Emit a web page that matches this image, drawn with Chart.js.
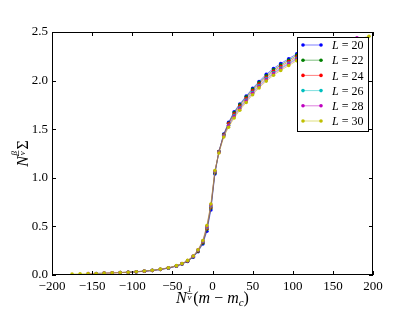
<!DOCTYPE html>
<html>
<head>
<meta charset="utf-8">
<script src="https://cdn.jsdelivr.net/npm/chart.js@4.4.0/dist/chart.umd.min.js"></script>
<style>
  html, body { margin: 0; padding: 0; background: #fff; }
  #wrap { width: 415px; height: 312px; }
</style>
</head>
<body>
<div id="wrap"><canvas id="c" width="415" height="312"></canvas></div>
<script>
// tick values
const xTicks = [-200, -150, -100, -50, 0, 50, 100, 150, 200];
const yTicks = [0, 0.5, 1, 1.5, 2, 2.5];

// series labels and colours (matplotlib classic b g r c m y)
const sizes = [20, 22, 24, 26, 28, 30];
const colors = ["#0000ff", "#008000", "#ff0000", "#00bfbf", "#bf00bf", "#bfbf00"];

const xL20 = [-105,-95,-85,-75,-65,-55,-45,-38,-31,-24,-18,-12,-7,-2,3,8,14,20,27,34,42,50,58,67,76,85,95,105,117];
const yL20 = [0.027,0.032,0.038,0.046,0.056,0.070,0.090,0.112,0.140,0.183,0.24,0.32,0.45,0.67,1.04,1.27,1.45,1.57,1.68,1.76,1.84,1.92,1.99,2.065,2.125,2.175,2.225,2.275,2.315];

const xL22 = [-115,-105,-95,-85,-75,-65,-55,-45,-38,-31,-24,-18,-12,-7,-2,3,8,14,20,27,34,42,50,58,67,76,85,95,105,117,130];
const yL22 = [0.025,0.028,0.033,0.039,0.047,0.057,0.071,0.092,0.114,0.143,0.187,0.245,0.33,0.47,0.69,1.05,1.27,1.445,1.56,1.67,1.75,1.83,1.91,1.98,2.05,2.11,2.16,2.21,2.26,2.30,2.34];

const xL24 = [-135,-125,-115,-105,-95,-85,-75,-65,-55,-45,-38,-31,-24,-18,-12,-7,-2,3,8,14,20,27,34,42,50,58,67,76,85,95,105,117,130,145];
const yL24 = [0.019,0.022,0.025,0.028,0.033,0.039,0.047,0.058,0.072,0.093,0.115,0.145,0.19,0.25,0.34,0.48,0.70,1.06,1.27,1.44,1.555,1.655,1.735,1.815,1.895,1.965,2.035,2.095,2.145,2.195,2.245,2.285,2.325,2.37];

const xL26 = [-145,-135,-125,-115,-105,-95,-85,-75,-65,-55,-45,-38,-31,-24,-18,-12,-7,-2,3,8,14,20,27,34,42,50,58,67,76,85,95,105,117,130,145,162];
const yL26 = [0.016,0.019,0.022,0.025,0.029,0.034,0.040,0.048,0.059,0.073,0.094,0.116,0.147,0.192,0.255,0.345,0.49,0.71,1.065,1.265,1.435,1.54,1.64,1.72,1.80,1.88,1.95,2.02,2.08,2.13,2.18,2.23,2.27,2.31,2.36,2.41];

const xL28 = [-155,-145,-135,-125,-115,-105,-95,-85,-75,-65,-55,-45,-38,-31,-24,-18,-12,-7,-2,3,8,14,20,27,34,42,50,58,67,76,85,95,105,117,130,145,162,180];
const yL28 = [0.014,0.016,0.019,0.022,0.025,0.029,0.034,0.040,0.048,0.059,0.074,0.095,0.117,0.148,0.194,0.258,0.35,0.50,0.72,1.07,1.26,1.43,1.535,1.63,1.71,1.79,1.87,1.94,2.01,2.07,2.12,2.17,2.22,2.26,2.30,2.35,2.40,2.44];

const xL30 = [-175,-165,-155,-145,-135,-125,-115,-105,-95,-85,-75,-65,-55,-45,-38,-31,-24,-18,-12,-7,-2,3,8,14,20,27,34,42,50,58,67,76,85,95,105,117,130,145,162,180,195];
const yL30 = [0.010,0.012,0.014,0.016,0.019,0.022,0.025,0.029,0.034,0.041,0.049,0.060,0.075,0.096,0.118,0.150,0.196,0.26,0.355,0.51,0.73,1.075,1.255,1.42,1.52,1.615,1.695,1.775,1.855,1.925,1.995,2.055,2.105,2.155,2.205,2.245,2.285,2.335,2.385,2.425,2.455];

const seriesX = [xL20, xL22, xL24, xL26, xL28, xL30];
const seriesY = [yL20, yL22, yL24, yL26, yL28, yL30];

const SERIF = "'Liberation Serif', 'DejaVu Serif', serif";

function withAlpha(hex, a) {
  const n = parseInt(hex.slice(1), 16);
  return `rgba(${(n >> 16) & 255},${(n >> 8) & 255},${n & 255},${a})`;
}

// draws a run of text pieces; frac pieces are stacked tiny fractions
function drawPieces(ctx, pieces, x, y) {
  let cx = x;
  pieces.forEach(p => {
    if (p.frac) {
      ctx.font = "italic 9px " + SERIF;
      const w = Math.max(ctx.measureText(p.frac[0]).width, ctx.measureText(p.frac[1]).width) + 1;
      ctx.textAlign = "center";
      ctx.fillText(p.frac[0], cx + w / 2, y - 11);
      ctx.fillText(p.frac[1], cx + w / 2, y - 3);
      ctx.fillRect(cx, y - 10, w, 0.6);
      ctx.textAlign = "left";
      cx += w + 1;
    } else {
      ctx.font = (p.italic ? "italic " : "") + (p.size || 16) + "px " + SERIF;
      ctx.fillText(p.t, cx, y + (p.dy || 0));
      cx += ctx.measureText(p.t).width;
    }
  });
  return cx - x;
}

function piecesWidth(ctx, pieces) {
  ctx.save();
  ctx.globalAlpha = 0;
  const w = drawPieces(ctx, pieces, 0, 0);
  ctx.restore();
  return w;
}

const framePlugin = {
  id: "frame",
  afterDraw(chart) {
    const { ctx, chartArea: a, scales } = chart;
    ctx.save();
    ctx.strokeStyle = "#000";
    ctx.lineWidth = 1;
    ctx.strokeRect(Math.round(a.left) + 0.5, Math.round(a.top) + 0.5, Math.round(a.right - a.left) - 1, Math.round(a.bottom - a.top) - 1);
    ctx.beginPath();
    xTicks.forEach(v => {
      const px = Math.round(scales.x.getPixelForValue(v)) + 0.5;
      ctx.moveTo(px, a.bottom); ctx.lineTo(px, a.bottom - 4);
      ctx.moveTo(px, a.top); ctx.lineTo(px, a.top + 4);
    });
    yTicks.forEach(v => {
      const py = Math.round(scales.y.getPixelForValue(v)) + 0.5;
      ctx.moveTo(a.left, py); ctx.lineTo(a.left + 4, py);
      ctx.moveTo(a.right, py); ctx.lineTo(a.right - 4, py);
    });
    ctx.stroke();

    // legend
    const lx = 297, ly = 37, lw = 71, lh = 94;
    ctx.fillStyle = "#fff";
    ctx.fillRect(lx, ly, lw, lh);
    ctx.strokeRect(lx + 0.5, ly + 0.5, lw, lh);
    sizes.forEach((s, i) => {
      const ry = 45 + i * 15.2;
      ctx.strokeStyle = withAlpha(colors[i], 0.5);
      ctx.beginPath(); ctx.moveTo(303, ry); ctx.lineTo(321, ry); ctx.stroke();
      ctx.fillStyle = colors[i];
      [303, 321].forEach(dx => { ctx.beginPath(); ctx.arc(dx, ry, 1.8, 0, Math.PI * 2); ctx.fill(); });
      ctx.fillStyle = "#000";
      ctx.textBaseline = "middle";
      drawPieces(ctx, [{ t: "L", italic: true, size: 12 }, { t: " = " + s, size: 12 }], 332, ry + 1);
    });

    // axis titles
    ctx.fillStyle = "#000";
    ctx.textBaseline = "alphabetic";
    const xt = [{ t: "N", italic: true }, { frac: ["1", "ν"] }, { t: "(" }, { t: "m", italic: true }, { t: " − " }, { t: "m", italic: true }, { t: "c", italic: true, size: 11, dy: 3 }, { t: ")" }];
    const xw = piecesWidth(ctx, xt);
    drawPieces(ctx, xt, (a.left + a.right) / 2 - xw / 2, 303);

    const yt = [{ t: "N", italic: true }, { frac: ["β", "ν"] }, { t: "Σ" }];
    const yw = piecesWidth(ctx, yt);
    ctx.translate(28, (a.top + a.bottom) / 2);
    ctx.rotate(-Math.PI / 2);
    drawPieces(ctx, yt, -yw / 2, 0);
    ctx.restore();
  }
};

const datasets = sizes.map((s, i) => ({
  label: "L = " + s,
  data: seriesX[i].map((x, k) => ({ x, y: seriesY[i][k] })),
  showLine: true,
  borderColor: withAlpha(colors[i], 0.5),
  borderWidth: 1,
  backgroundColor: colors[i],
  pointBackgroundColor: colors[i],
  pointBorderWidth: 0,
  pointRadius: 1.8,
  order: sizes.length - i,
}));

const tickFont = { family: SERIF, size: 13 };

new Chart(document.getElementById("c"), {
  type: "scatter",
  data: { datasets },
  plugins: [framePlugin],
  options: {
    responsive: false,
    animation: false,
    events: [],
    layout: { padding: { left: 0, right: 42, top: 32, bottom: 0 } },
    plugins: { legend: { display: false }, tooltip: { enabled: false } },
    scales: {
      x: {
        type: "linear", min: -200, max: 200,
        afterFit: s => { s.height = 37; },
        afterBuildTicks: s => { s.ticks = xTicks.map(v => ({ value: v })); },
        grid: { display: false, drawTicks: false },
        border: { display: false },
        ticks: { color: "#000", font: tickFont, padding: 4, maxRotation: 0, autoSkip: false,
          callback: v => String(v).replace("-", "\u2212") },
      },
      y: {
        type: "linear", min: 0, max: 2.5,
        afterFit: s => { s.width = 52; },
        afterBuildTicks: s => { s.ticks = yTicks.map(v => ({ value: v })); },
        grid: { display: false, drawTicks: false },
        border: { display: false },
        ticks: { color: "#000", font: tickFont, padding: 4, autoSkip: false,
          callback: v => v.toFixed(1) },
      },
    },
  },
});
</script>
</body>
</html>
